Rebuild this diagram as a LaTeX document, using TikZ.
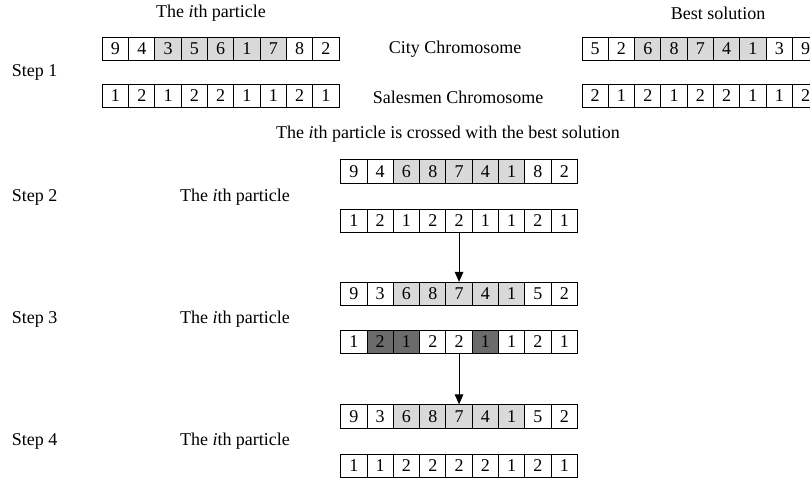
\documentclass[tikz,border=0pt]{standalone}
\usepackage{fontspec}
\setmainfont{Liberation Serif}
\usetikzlibrary{arrows.meta}
\definecolor{cellg}{HTML}{D9D9D9}
\definecolor{celld}{HTML}{6B6B6B}
\begin{document}
\begin{tikzpicture}[x=0.025cm,y=-0.025cm,>={Triangle[length=7pt,width=6pt]},font=\fontsize{12.8}{15}\selectfont]
\tikzstyle{c}=[draw,line width=0.6pt,minimum height=0.5875cm,minimum width=0.6575cm,inner sep=0pt]
\tikzstyle{g}=[c,fill=cellg]
\tikzstyle{d}=[c,fill=celld]
\useasboundingbox (0,0) rectangle (810,482);
\node (tpa) at (211,13) {The \textit{i}th particle}; \node (tbs) at (718,13) {Best solution};
\node[anchor=west] (st1) at (7,72) {Step 1};
\node (city) at (455,49) {City Chromosome}; \node (sales) at (458,97) {Salesmen Chromosome};
% step 1: particle and best solution
\foreach \v/\s [count=\i] in {9/c,4/c,3/g,5/g,6/g,1/g,7/g,8/c,2/c} \node[\s] (pa-\i) at ({102.3+26.3*(\i-0.5)},49) {\v};
\foreach \v/\s [count=\i] in {1/c,2/c,1/c,2/c,2/c,1/c,1/c,2/c,1/c} \node[\s] (pb-\i) at ({102.3+26.3*(\i-0.5)},96) {\v};
\foreach \v/\s [count=\i] in {5/c,2/c,6/g,8/g,7/g,4/g,1/g,3/c,9/c} \node[\s] (ba-\i) at ({582+26.3*(\i-0.5)},49) {\v};
\foreach \v/\s [count=\i] in {2/c,1/c,2/c,1/c,2/c,2/c,1/c,1/c,2/c} \node[\s] (bb-\i) at ({582+26.3*(\i-0.5)},96) {\v};
\node (cross) at (448,134) {The \textit{i}th particle is crossed with the best solution};
% steps 2 to 4
\node[anchor=west] (st2) at (7,197) {Step 2}; \node (tp2) at (235,197) {The \textit{i}th particle};
\node[anchor=west] (st3) at (7,319) {Step 3}; \node (tp3) at (235,319) {The \textit{i}th particle};
\node[anchor=west] (st4) at (7,441) {Step 4}; \node (tp4) at (235,441) {The \textit{i}th particle};
\foreach \v/\s [count=\i] in {9/c,4/c,6/g,8/g,7/g,4/g,1/g,8/c,2/c} \node[\s] (c2-\i) at ({340.7+26.3*(\i-0.5)},171.5) {\v};
\foreach \v/\s [count=\i] in {1/c,2/c,1/c,2/c,2/c,1/c,1/c,2/c,1/c} \node[\s] (s2-\i) at ({340.7+26.3*(\i-0.5)},221) {\v};
\foreach \v/\s [count=\i] in {9/c,3/c,6/g,8/g,7/g,4/g,1/g,5/c,2/c} \node[\s] (c3-\i) at ({340.7+26.3*(\i-0.5)},294) {\v};
\foreach \v/\s [count=\i] in {1/c,2/d,1/d,2/c,2/c,1/d,1/c,2/c,1/c} \node[\s] (s3-\i) at ({340.7+26.3*(\i-0.5)},342) {\v};
\foreach \v/\s [count=\i] in {9/c,3/c,6/g,8/g,7/g,4/g,1/g,5/c,2/c} \node[\s] (c4-\i) at ({340.7+26.3*(\i-0.5)},416.5) {\v};
\foreach \v/\s [count=\i] in {1/c,1/c,2/c,2/c,2/c,2/c,1/c,2/c,1/c} \node[\s] (s4-\i) at ({340.7+26.3*(\i-0.5)},466) {\v};
\draw[->,line width=0.6pt] (s2-5.south) -- (c3-5.north); \draw[->,line width=0.6pt] (s3-5.south) -- (c4-5.north);
\end{tikzpicture}
\end{document}
